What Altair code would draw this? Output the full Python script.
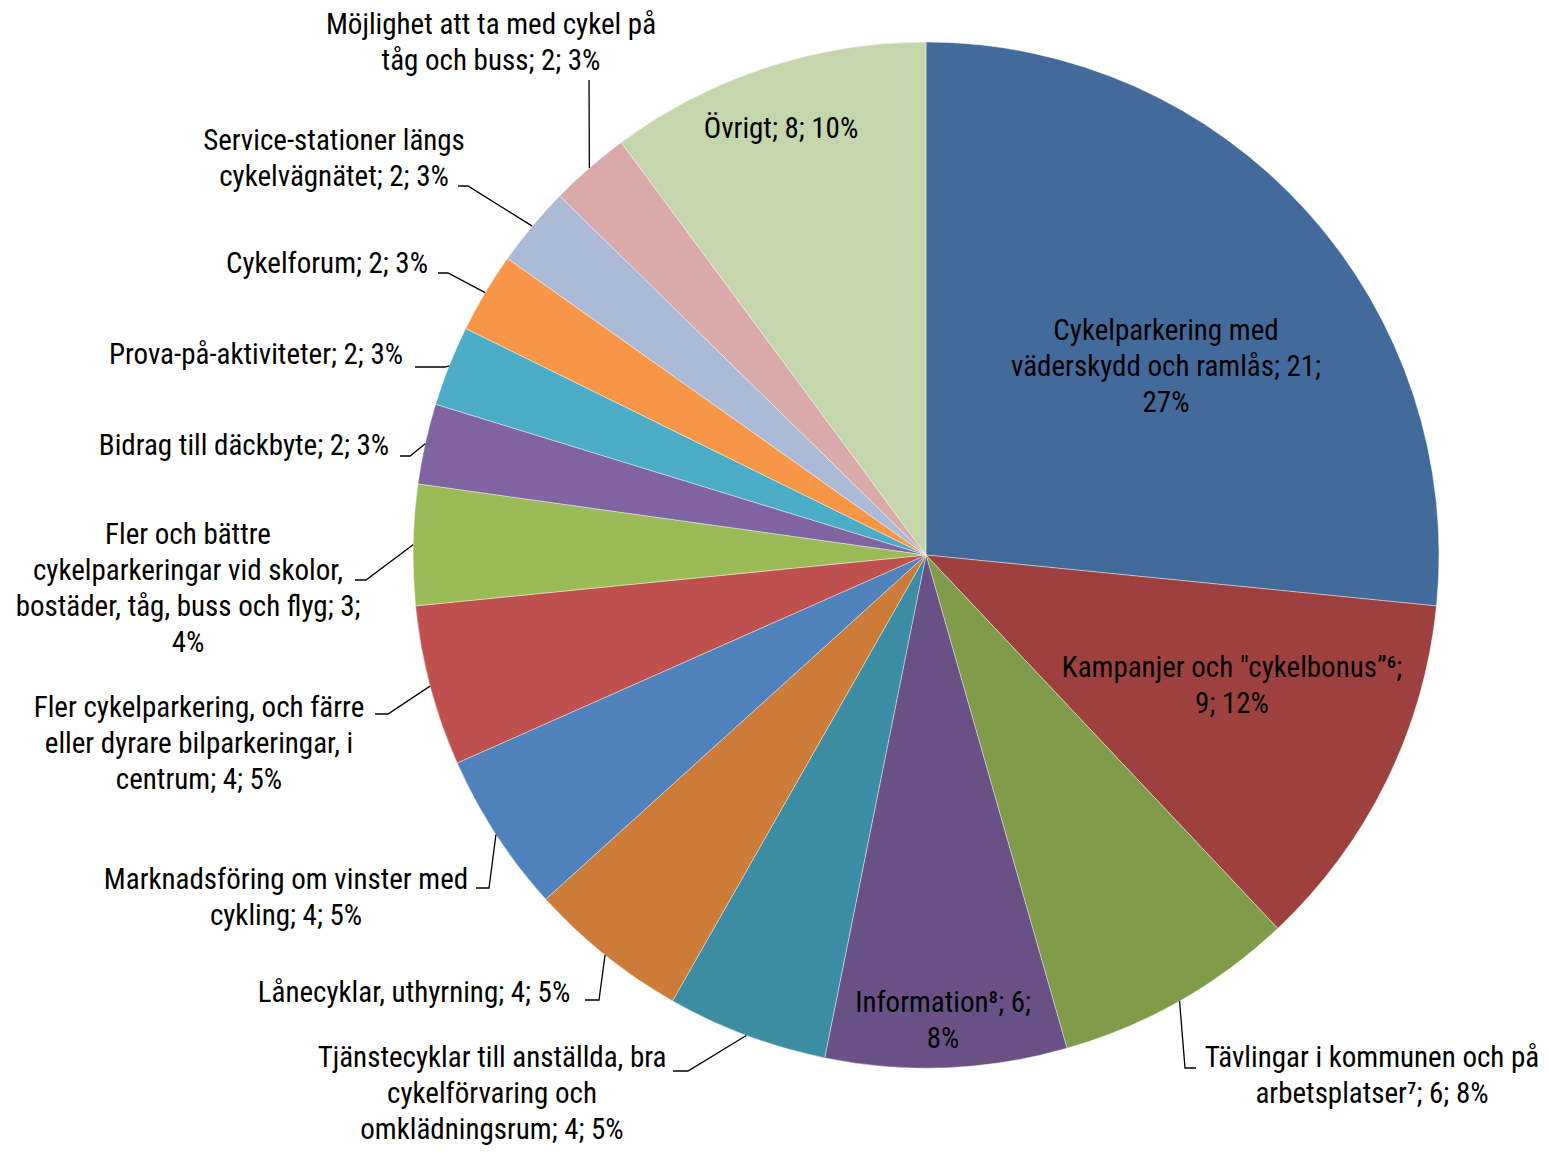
import math
import altair as alt
import pandas as pd

# ---------------- data ----------------
categories = [
    "Cykelparkering med väderskydd och ramlås",
    "Kampanjer och \"cykelbonus\"",
    "Tävlingar i kommunen och på arbetsplatser",
    "Information",
    "Tjänstecyklar till anställda, bra cykelförvaring och omklädningsrum",
    "Lånecyklar, uthyrning",
    "Marknadsföring om vinster med cykling",
    "Fler cykelparkering, och färre eller dyrare bilparkeringar, i centrum",
    "Fler och bättre cykelparkeringar vid skolor, bostäder, tåg, buss och flyg",
    "Bidrag till däckbyte",
    "Prova-på-aktiviteter",
    "Cykelforum",
    "Service-stationer längs cykelvägnätet",
    "Möjlighet att ta med cykel på tåg och buss",
    "Övrigt",
]
values = [21, 9, 6, 6, 4, 4, 4, 4, 3, 2, 2, 2, 2, 2, 8]
colors = ["#426A9B", "#9E413E", "#809B49", "#695185", "#3C8DA3", "#CC7B38",
          "#4F81BD", "#C0504D", "#9BBB59", "#8064A2", "#4BACC6", "#F79646",
          "#AABAD7", "#D9AAA9", "#C6D6AC"]
label_lines = [
    ["Cykelparkering med", "väderskydd och ramlås; 21;", "27%"],
    ["Kampanjer och \"cykelbonus\u201d\u2076;", "9; 12%"],
    ["Tävlingar i kommunen och på", "arbetsplatser\u2077; 6; 8%"],
    ["Information\u2078; 6;", "8%"],
    ["Tjänstecyklar till anställda, bra", "cykelförvaring och", "omklädningsrum; 4; 5%"],
    ["Lånecyklar, uthyrning; 4; 5%"],
    ["Marknadsföring om vinster med", "cykling; 4; 5%"],
    ["Fler cykelparkering, och färre", "eller dyrare bilparkeringar, i", "centrum; 4; 5%"],
    ["Fler och bättre", "cykelparkeringar vid skolor,", "bostäder, tåg, buss och flyg; 3;", "4%"],
    ["Bidrag till däckbyte; 2; 3%"],
    ["Prova-på-aktiviteter; 2; 3%"],
    ["Cykelforum; 2; 3%"],
    ["Service-stationer längs", "cykelvägnätet; 2; 3%"],
    ["Möjlighet att ta med cykel på", "tåg och buss; 2; 3%"],
    ["Övrigt; 8; 10%"],
]

# ---------------- layout (pixel units, pie centre = 0,0, y up) ----------------
RADIUS = 513
CX, CY = 926, 555          # pie centre on the page
label_pos = {              # centre x / first-line y of each label on the page
    0: (1166, 331), 1: (1232, 668), 2: (1372, 1058), 3: (943, 1003),
    4: (492, 1058), 5: (414, 993), 6: (286, 880), 7: (199, 708),
    8: (188, 535), 9: (244, 446), 10: (256, 355), 11: (327, 264),
    12: (334, 141), 13: (491, 25), 14: (781, 129),
}
leader_pts = {             # elbow / end of each leader line on the page
    2: [(1185, 1068), (1196, 1068)],
    4: [(688, 1071), (673, 1071)],
    5: [(599, 1000), (585, 1000)],
    6: [(489, 888), (476, 888)],
    7: [(388, 714), (375, 714)],
    8: [(366, 580), (355, 580)],
    9: [(410, 456), (400, 456)],
    10: [(445, 367), (415, 367)],
    11: [(448, 273), (438, 273)],
    12: [(468, 186), (458, 186)],
    13: [(589, 80)],
}

def to_xy(px, py):
    return px - CX, CY - py

total = sum(values)
pie = pd.DataFrame({"cat": categories, "value": values,
                    "idx": list(range(len(values))), "cx": 0, "cy": 0})

lab_rows, line_rows = [], []
cum = 0
for i, v in enumerate(values):
    mid = (cum + v / 2) / total * 2 * math.pi
    cum += v
    lx, ly = to_xy(*label_pos[i])
    lab_rows.append({"idx": i, "x": lx, "y": ly, "text": "\n".join(label_lines[i])})
    if i in leader_pts:
        ex, ey = RADIUS * math.sin(mid), RADIUS * math.cos(mid)
        pts = [(ex, ey)] + [to_xy(*p) for p in leader_pts[i]]
        for k, (x, y) in enumerate(pts):
            line_rows.append({"idx": i, "k": k, "x": x, "y": y})
labels = pd.DataFrame(lab_rows)
leaders = pd.DataFrame(line_rows)

W, H = 1533, 1143
xs = alt.Scale(domain=[-(CX - 8), W - (CX - 8)], nice=False, zero=False)
ys = alt.Scale(domain=[-(H - (CY - 8)), CY - 8], nice=False, zero=False)

arcs = alt.Chart(pie).mark_arc(outerRadius=RADIUS, stroke="white", strokeWidth=0.4).encode(
    theta=alt.Theta("value:Q", stack=True),
    order=alt.Order("idx:Q"),
    color=alt.Color("cat:N", scale=alt.Scale(domain=categories, range=colors), legend=None),
    x=alt.X("cx:Q", scale=xs, axis=None),
    y=alt.Y("cy:Q", scale=ys, axis=None),
)

lines = alt.Chart(leaders).mark_line(color="black", strokeWidth=1.3).encode(
    x=alt.X("x:Q", scale=xs, axis=None),
    y=alt.Y("y:Q", scale=ys, axis=None),
    detail="idx:N",
    order="k:Q",
)

texts = alt.Chart(labels).mark_text(
    font="Liberation Sans Narrow, Arial Narrow, Roboto Condensed, DejaVu Sans Condensed, sans-serif",
    fontSize=29, lineBreak="\n", lineHeight=36, align="center", baseline="middle",
    color="black",
).encode(
    x=alt.X("x:Q", scale=xs, axis=None),
    y=alt.Y("y:Q", scale=ys, axis=None),
    text="text:N",
)

chart = alt.layer(arcs, lines, texts).properties(
    width=W, height=H, padding=0, autosize="none"
).configure_view(stroke=None)

chart.save("out.html", embed_options={"renderer": "svg", "actions": False})
